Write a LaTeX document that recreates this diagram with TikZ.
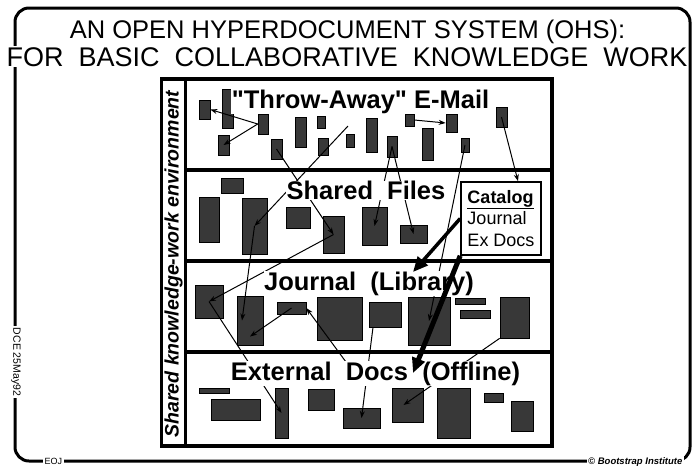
\documentclass[tikz,border=0pt]{standalone}
\usepackage{fontspec}
\setmainfont{Liberation Sans}[Ligatures=TeXOff]
\usetikzlibrary{arrows.meta}

\begin{document}
\begin{tikzpicture}[x=1pt,y=-1pt,
  doc/.style={draw=black,fill=black!78,line width=0.6pt,inner sep=0pt},
  band/.style={fill=white,inner sep=0.5pt,anchor=base,font=\fontsize{25.5}{30}\selectfont\bfseries},
  headline/.style={fill=white,inner sep=1pt,anchor=base,font=\fontsize{27}{30}\selectfont},
  foot/.style={fill=white,inner sep=1.5pt,font=\fontsize{9}{11}\selectfont},
  link/.style={line width=1pt,-{Stealth[length=7pt,width=5pt]}},
  fatlink/.style={-{Triangle[length=15pt,width=13pt]}},
  rule/.style={line width=3.5pt}]
\useasboundingbox (0,0) rectangle (695,467);
\draw[line width=3pt,rounded corners=14pt] (15,8) rectangle (690,461);
\draw[line width=3.5pt] (161.5,79) rectangle (552,446);
\draw[line width=3pt] (185,79) -- (185,446);
\foreach \y in {170,261,352}
\draw[rule] (185,\y) -- (552,\y);
\node[rotate=90,font=\fontsize{19.5}{22}\selectfont\bfseries\itshape] (env) at (173.5,264) {Shared knowledge-work environment};
\foreach \n/\x/\y/\w/\h in
{r1/204.5/109.5/11/19, r2/227.5/108.5/11/39, r3/223.5/145/11/20, r4/263/124/10/20,
 r5/276.5/149/11/20, r6/300.5/132/11/30, r7/321/122/8/12, r8/323/146.5/10/17,
 r9/350/140.5/8/13, r10/371.5/135/11/34, r11/392/146.5/10/21, r12/409.5/120/9/12,
 r13/451.5/123/11/18, r14/427.5/144/11/32, r15/465/145/8/14, r16/501.5/117/11/20,
 b1/209/219.5/20/45, b2/232/185.5/22/15, b3/254.5/226/25/56, b4/298/217.5/24/21,
 b5/333.5/234.5/21/37, b6/374.5/226/25/38, b7/413.5/234/27/18,
 j1/209/301.5/28/33, j2/250/320.5/26/49, j3/291.5/308/29/12, j4/339.5/318.5/45/43,
 j5/385/314.5/32/25, j6/429/321/42/48, j7/470/301/30/6, j8/475/314/30/8, j9/514.5/317.5/29/41,
 e1/214/390.5/30/5, e2/235.5/409.5/49/21, e3/281.5/413/13/50, e4/321/399.5/26/21,
 e5/361.5/418/37/20, e6/407.5/405/31/34, e7/453.5/413/33/50, e8/493.5/397.5/19/9, e9/522/416/22/30}
\node[doc,minimum width=\w,minimum height=\h] (\n) at (\x,\y) {};
\coordinate (mailsrc) at (348,126);
\coordinate (docsrc) at (346,362);
\coordinate (libtip) at (413,272);
\coordinate (offtip) at (413,373);
\draw[link] (r4.west) -- (r1.east);
\draw[link] (r4.west) -- (r3.center);
\draw[link] (r12.east) -- (r13.west);
\draw[link] (r5.center) -- (b5.center);
\draw[link] (mailsrc) -- (b3.center);
\draw[link] (r11.center) -- (b6.center);
\draw[link] (r11.center) -- (b7.center);
\draw[link] (r15.center) -- (j6.center);
\draw[link] (b3.center) -- ([xshift=-8pt]j2.center);
\draw[link] (b5.center) -- (j1.center);
\draw[link] (j3.center) -- ([yshift=-16pt]j2.center);
\draw[link] (docsrc) -- (j3.east);
\draw[link] (j1.center) -- (e3.center);
\draw[link] ([xshift=-12pt]j5.south) -- (e5.center);
\draw[link] (j9.south west) -- ([xshift=-4pt]e6.center);
\node[band] (mail) at (360.5,108) {"Throw-Away" E-Mail};
\node[band] (files) at (366,199.5) {Shared\ \ Files};
\node[band] (library) at (369,290) {Journal\ \ (Library)};
\node[band] (offline) at (375.5,380) {External\ \ Docs\ \ (Offline)};
\node[draw,fill=white,line width=1.6pt,minimum width=80,minimum height=73,align=left,inner sep=0pt,font=\fontsize{18}{21.5}\selectfont] (catalog) at (501,218.5) {\textbf{\underline{Catalog}}\\Journal\\Ex Docs};
\draw[link] (r16.center) -- ([xshift=17pt]catalog.north);
\draw[fatlink,line width=3.5pt] (catalog.west) -- (libtip);
\draw[fatlink,line width=5pt] (catalog.south west) -- (offtip);
\node[headline,font=\fontsize{25.5}{28}\selectfont] (head) at (347.5,38) {AN OPEN HYPERDOCUMENT SYSTEM (OHS):};
\node[headline] (subhead) at (347,66) {FOR\ \ BASIC\ \ COLLABORATIVE\ \ KNOWLEDGE\ \ WORK};
\node[foot,rotate=-90,font=\fontsize{10.5}{12}\selectfont] (dce) at (16,362) {DCE 25May92};
\node[foot,anchor=base west] (eoj) at (43,464) {EOJ};
\node[foot,anchor=base east,font=\fontsize{9.5}{11}\selectfont\bfseries\itshape] (bi) at (684,464) {\textcopyright\ Bootstrap Institute};
\end{tikzpicture}
\end{document}
